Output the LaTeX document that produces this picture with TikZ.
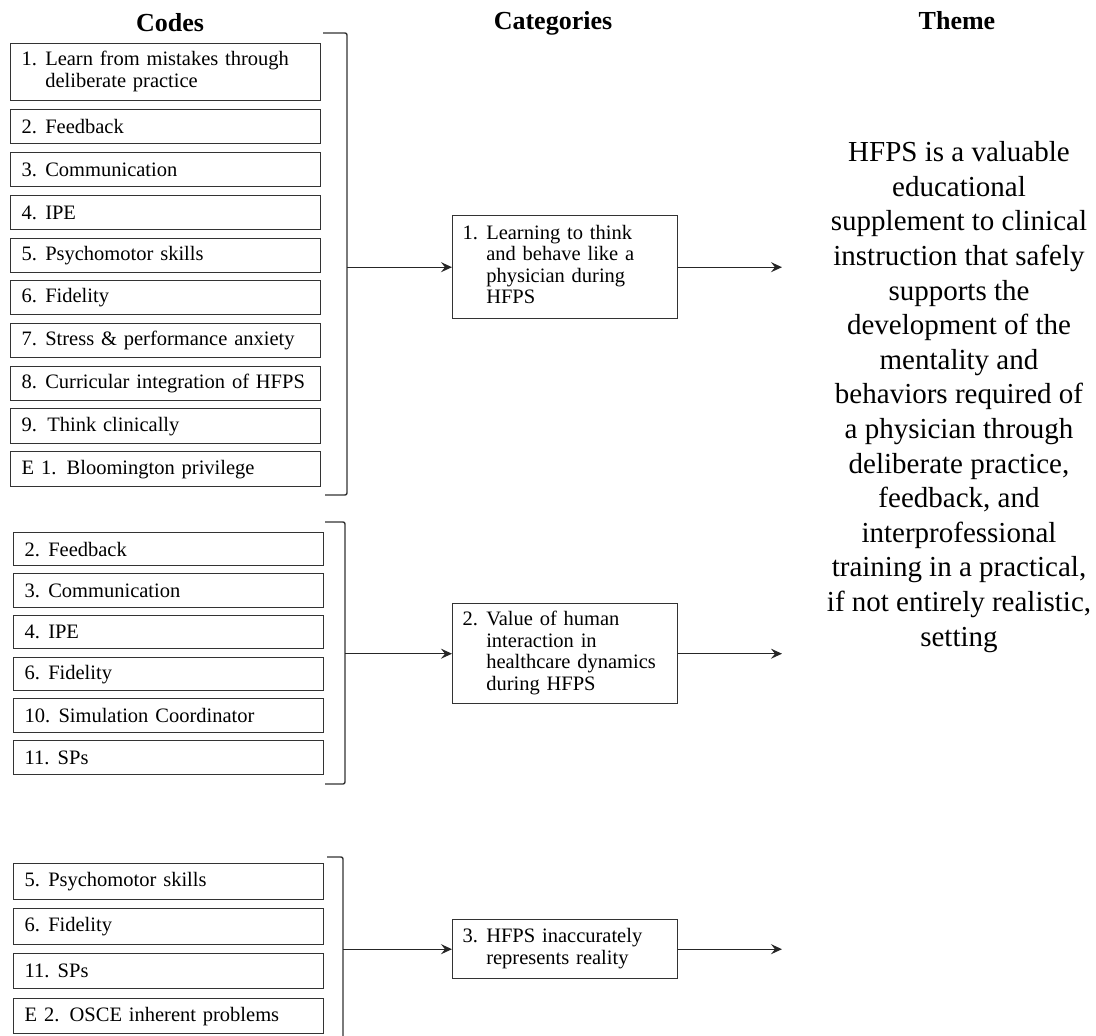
\documentclass[tikz,border=0pt]{standalone}
\usepackage{fontspec}
\setmainfont{Liberation Serif}
\usetikzlibrary{arrows.meta}
\newcommand\numline[2]{#1\hspace{0.4em}#2}
\begin{document}
\begin{tikzpicture}[x=1pt,y=-1pt,
 codebox/.style={draw=black!80, line width=1.4pt, minimum width=310pt, minimum height=34pt, inner xsep=11pt, inner ysep=0pt, text width=288pt, align=left, font=\fontsize{20.5}{22.5}\selectfont, anchor=north west},
 catbox/.style={draw=black!80, line width=1.4pt, minimum width=225pt, inner xsep=10pt, inner ysep=0pt, text width=205pt, align=left, font=\fontsize{20.5}{21.5}\selectfont, anchor=north west},
 brk/.style={line width=1.4pt, draw=black!80, rounded corners=2pt},
 arr/.style={line width=1.4pt, draw=black!85, -{Stealth[length=11pt,width=10pt,inset=4pt]}},
 head/.style={font=\fontsize{26}{28}\selectfont\bfseries, inner sep=0pt},
 theme/.style={font=\fontsize{29}{34.6}\selectfont, align=center, inner sep=0pt}
]
\useasboundingbox (0,0) rectangle (1096,1036);

% headings
\node[head] (hcodes) at (170,23) {Codes};
\node[head] (hcat) at (553,23) {Categories};
\node[head] (htheme) at (957,21) {Theme};

% group 1
\node[codebox, minimum height=57pt] (a1) at (10,43) {\begin{tabular}{@{}l@{\hspace{0.4em}}l@{}}1. & Learn from mistakes through\\[-1pt] & deliberate practice\end{tabular}};
\node[codebox] (a2) at (10,109) {\numline{2.}{Feedback}};
\node[codebox] (a3) at (10,152) {\numline{3.}{Communication}};
\node[codebox] (a4) at (10,195) {\numline{4.}{IPE}};
\node[codebox] (a5) at (10,238) {\numline{5.}{Psychomotor skills}};
\node[codebox] (a6) at (10,280) {\numline{6.}{Fidelity}};
\node[codebox] (a7) at (10,323) {\numline{7.}{Stress \& performance anxiety}};
\node[codebox] (a8) at (10,366) {\numline{8.}{Curricular integration of HFPS}};
\node[codebox, minimum height=35pt] (a9) at (10,408) {9. Think clinically};
\node[codebox, minimum height=35pt] (ae1) at (10,451) {E 1. Bloomington privilege};

% group 2
\node[codebox, minimum height=33pt] (b2) at (13,532) {\numline{2.}{Feedback}};
\node[codebox] (b3) at (13,573) {\numline{3.}{Communication}};
\node[codebox, minimum height=33pt] (b4) at (13,615) {\numline{4.}{IPE}};
\node[codebox, minimum height=33pt] (b6) at (13,657) {\numline{6.}{Fidelity}};
\node[codebox] (b10) at (13,698) {\numline{10.}{Simulation Coordinator}};
\node[codebox] (b11) at (13,740) {\numline{11.}{SPs}};

% group 3
\node[codebox, minimum height=36pt] (c5) at (13,863) {\numline{5.}{Psychomotor skills}};
\node[codebox, minimum height=36pt] (c6) at (13,908) {\numline{6.}{Fidelity}};
\node[codebox, minimum height=35pt] (c11) at (13,953) {\numline{11.}{SPs}};
\node[codebox, minimum height=35pt] (ce2) at (13,998) {E 2. OSCE inherent problems};

% categories
\node[catbox, minimum height=103pt] (k1) at (452,215) {\begin{tabular}{@{}l@{\hspace{0.4em}}l@{}}1. & Learning to think\\ & and behave like a\\ & physician during\\ & HFPS\end{tabular}};
\node[catbox, minimum height=100pt] (k2) at (452,603) {\begin{tabular}{@{}l@{\hspace{0.4em}}l@{}}2. & Value of human\\ & interaction in\\ & healthcare dynamics\\ & during HFPS\end{tabular}};
\node[catbox, minimum height=59pt] (k3) at (452,919) {\begin{tabular}{@{}l@{\hspace{0.4em}}l@{}}3. & HFPS inaccurately\\ & represents reality\end{tabular}};

% theme
\node[theme] (th) at (959,397) {HFPS is a valuable\\ educational\\ supplement to clinical\\ instruction that safely\\ supports the\\ development of the\\ mentality and\\ behaviors required of\\ a physician through\\ deliberate practice,\\ feedback, and\\ interprofessional\\ training in a practical,\\ if not entirely realistic,\\ setting};

% brackets
\coordinate (bx1) at (347,0);
\coordinate (bx2) at (345,0);
\coordinate (bx3) at (343,0);
\coordinate (tx) at (782,0);
\draw[brk] (323,33) -- (347,33) -- (347,495) -- (325,495);
\draw[brk] (325,522) -- (345,522) -- (345,784) -- (325,784);
\draw[brk] (327,857) -- (343,857) -- (343,1036);

\coordinate (s1) at (k1.west -| bx1);
\coordinate (s2) at (k2.west -| bx2);
\coordinate (s3) at (k3.west -| bx3);
\coordinate (e1) at (k1.east -| tx);
\coordinate (e2) at (k2.east -| tx);
\coordinate (e3) at (k3.east -| tx);

\draw[arr] (s1) -- (k1.west);
\draw[arr] (s2) -- (k2.west);
\draw[arr] (s3) -- (k3.west);
\draw[arr] (k1.east) -- (e1);
\draw[arr] (k2.east) -- (e2);
\draw[arr] (k3.east) -- (e3);
\end{tikzpicture}
\end{document}
